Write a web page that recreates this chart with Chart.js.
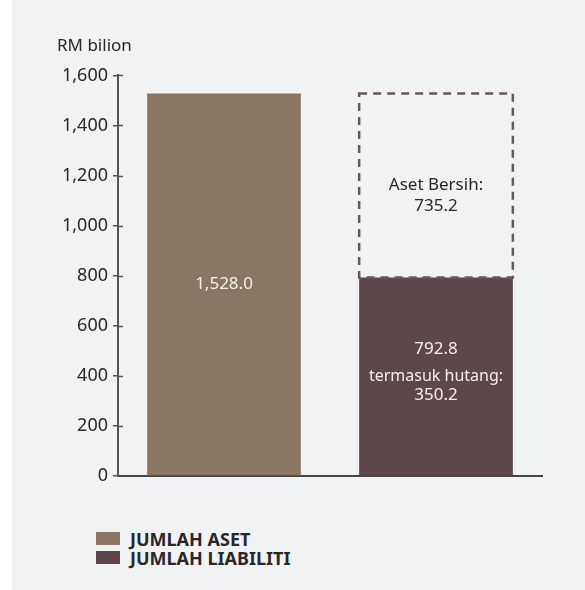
<!DOCTYPE html>
<html>
<head>
<meta charset="utf-8">
<script src="https://cdn.jsdelivr.net/npm/chart.js@4/dist/chart.umd.min.js"></script>
<style>
  body { margin: 0; background: #ffffff; font-family: "Noto Sans", sans-serif; }
  #panel { position: absolute; left: 12px; top: 0; width: 573px; height: 590px; background: #f1f2f4; }
  #wrap { position: absolute; left: 0; top: 0; width: 573px; height: 500px; }
  #legend { position: absolute; left: 84px; top: 529px; }
  .item { display: flex; align-items: center; height: 19px; font-weight: bold; font-size: 18px; color: #2b2628; }
  .box { width: 24px; height: 13px; margin-right: 10px; }
</style>
</head>
<body>
<div id="panel">
  <div id="wrap"><canvas id="chart"></canvas></div>
  <div id="legend"></div>
</div>
<script>
// data
const categories = ['JUMLAH ASET', 'JUMLAH LIABILITI'];
const asetValues = [1528.0, null];
const liabilitiValues = [null, 792.8];
const asetBersihValues = [null, 735.2];
const hutangValue = 350.2;
const yTicks = [0, 200, 400, 600, 800, 1000, 1200, 1400, 1600];

const asetColor = '#8a7665';
const liabilitiColor = '#5e474a';
const dashColor = '#6b565a';

function fmt(v) {
    return v.toLocaleString('en-US', {minimumFractionDigits: 1, maximumFractionDigits: 1});
}

// draws the dashed outline of the net assets bar + text inside bars
const barExtras = {
    id: 'barExtras',
    afterDatasetsDraw(chart) {
        const ctx = chart.ctx;
        const yScale = chart.scales.y;

        // crossing tick marks on the y axis (right half)
        const axisX = chart.chartArea.left;
        ctx.save();
        ctx.strokeStyle = '#555';
        ctx.lineWidth = 1.5;
        yTicks.forEach(function (t) {
            if (t === 0) return;
            const py = Math.round(yScale.getPixelForValue(t)) + 0.5;
            ctx.beginPath();
            ctx.moveTo(axisX, py);
            ctx.lineTo(axisX + 5, py);
            ctx.stroke();
        });
        ctx.restore();

        const bersih = chart.getDatasetMeta(2).data[1];
        ctx.save();
        ctx.setLineDash([8, 6]);
        ctx.lineWidth = 2.5;
        ctx.strokeStyle = dashColor;
        const left = bersih.x - bersih.width / 2;
        ctx.strokeRect(left, bersih.y, bersih.width, bersih.base - bersih.y);
        ctx.restore();

        ctx.save();
        ctx.textAlign = 'center';
        ctx.textBaseline = 'middle';
        ctx.font = '17px "Noto Sans"';

        const aset = chart.getDatasetMeta(0).data[0];
        ctx.fillStyle = '#f4efea';
        ctx.fillText(fmt(asetValues[0]), aset.x, (aset.y + aset.base) / 2);

        const liab = chart.getDatasetMeta(1).data[1];
        const midL = (liab.y + liab.base) / 2;
        ctx.fillText(fmt(liabilitiValues[1]), liab.x, midL - 27);
        ctx.fillText(fmt(hutangValue), liab.x, midL + 19);
        ctx.font = '16px "Noto Sans"';
        ctx.fillText('termasuk hutang:', liab.x, midL);

        const midB = (bersih.y + bersih.base) / 2;
        ctx.font = '17px "Noto Sans"';
        ctx.fillStyle = '#2b2628';
        ctx.fillText('Aset Bersih:', bersih.x, midB);
        ctx.fillText(fmt(asetBersihValues[1]), bersih.x, midB + 21);
        ctx.restore();
    }
};

const chart = new Chart(document.getElementById('chart'), {
    type: 'bar',
    data: {
        labels: categories,
        datasets: [
            { label: 'JUMLAH ASET', data: asetValues, backgroundColor: asetColor },
            { label: 'JUMLAH LIABILITI', data: liabilitiValues, backgroundColor: liabilitiColor },
            { label: 'Aset Bersih', data: asetBersihValues, backgroundColor: 'rgba(0,0,0,0)' }
        ]
    },
    options: {
        responsive: true,
        maintainAspectRatio: false,
        animation: false,
        layout: { padding: { left: 45, right: 43, top: 36, bottom: 16 } },
        datasets: { bar: { barPercentage: 0.725, categoryPercentage: 1 } },
        plugins: {
            legend: { display: false },
            tooltip: { enabled: false },
            title: {
                display: true,
                text: 'RM bilion',
                align: 'start',
                color: '#2b2628',
                font: { family: 'Noto Sans', size: 17, weight: 'normal' },
                padding: { top: 0, bottom: 19 }
            }
        },
        scales: {
            x: {
                stacked: true,
                ticks: { display: false },
                grid: { display: false },
                border: { display: true, color: '#444', width: 2 }
            },
            y: {
                stacked: true,
                min: 0,
                max: 1600,
                afterBuildTicks(scale) {
                    scale.ticks = yTicks.map(function (v) { return { value: v }; });
                },
                ticks: {
                    color: '#2b2628',
                    padding: 5,
                    font: { family: 'Noto Sans', size: 18 },
                    callback: function (v) { return v.toLocaleString('en-US'); }
                },
                grid: { drawOnChartArea: false, tickLength: 5, color: '#555', lineWidth: 1.5 },
                border: { color: '#555', width: 2 }
            }
        }
    },
    plugins: [barExtras]
});

// legend from the two main datasets
const legend = document.getElementById('legend');
chart.data.datasets.slice(0, 2).forEach(function (ds) {
    const row = document.createElement('div');
    row.className = 'item';
    const box = document.createElement('span');
    box.className = 'box';
    box.style.background = ds.backgroundColor;
    row.appendChild(box);
    row.appendChild(document.createTextNode(ds.label));
    legend.appendChild(row);
});
</script>
</body>
</html>
